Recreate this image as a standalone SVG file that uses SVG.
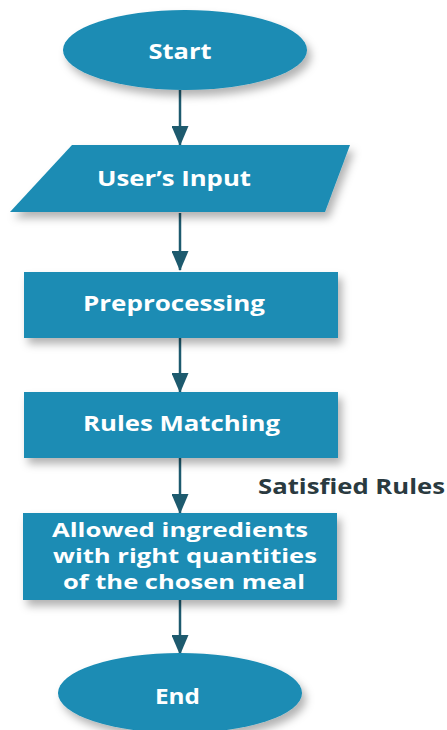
<svg xmlns="http://www.w3.org/2000/svg" width="447" height="730" viewBox="0 0 447 730">
<style>
.shape{fill:#1a8cb4;filter:url(#sh)}
.lbl{font-family:"Open Sans","Liberation Sans",sans-serif;font-weight:bold;font-size:22px;fill:#ffffff;text-anchor:middle;dominant-baseline:central}
.sm{font-size:19px}
.edge{stroke:#1d5a6e;stroke-width:2.5;fill:none;marker-end:url(#ah)}
.note{font-family:"Open Sans","Liberation Sans",sans-serif;font-weight:bold;font-size:21px;fill:#2a3a40}
</style>
<defs>
<filter id="sh" x="-20%" y="-20%" width="150%" height="160%">
<feDropShadow dx="4" dy="6" stdDeviation="4" flood-color="#000" flood-opacity="0.3"/>
</filter>
<marker id="ah" viewBox="0 0 20 17" refX="19" refY="8.5" markerWidth="20" markerHeight="17" markerUnits="userSpaceOnUse" orient="auto">
<path d="M0,0 L20,8.5 L0,17 z" fill="#1d5a6e"/>
</marker>
</defs>
<rect width="447" height="730" fill="#ffffff"/>
<g id="connectors">
<line class="edge" x1="180" y1="90" x2="180" y2="145"/>
<line class="edge" x1="180" y1="213" x2="180" y2="270"/>
<line class="edge" x1="180" y1="338" x2="180" y2="392"/>
<line class="edge" x1="180" y1="458" x2="180" y2="513"/>
<line class="edge" x1="180" y1="600" x2="180" y2="654"/>
</g>
<g id="start">
<ellipse class="shape" cx="185" cy="50" rx="122" ry="40"/>
<text class="lbl" x="180" y="50" textLength="63" lengthAdjust="spacingAndGlyphs">Start</text>
</g>
<g id="input">
<polygon class="shape" points="72,145 350,145 325,212 10,212"/>
<text class="lbl" x="174" y="177" textLength="154" lengthAdjust="spacingAndGlyphs">User’s Input</text>
</g>
<g id="preprocessing">
<rect class="shape" x="24" y="272" width="314" height="66"/>
<text class="lbl" x="174" y="302" textLength="182" lengthAdjust="spacingAndGlyphs">Preprocessing</text>
</g>
<g id="rules">
<rect class="shape" x="24" y="392" width="314" height="66"/>
<text class="lbl" x="181.5" y="422" textLength="197" lengthAdjust="spacingAndGlyphs">Rules Matching</text>
</g>
<text class="note" x="258" y="494" textLength="187" lengthAdjust="spacingAndGlyphs">Satisfied Rules</text>
<g id="allowed">
<rect class="shape" x="23" y="513" width="314" height="87"/>
<text class="lbl sm" x="180" y="530" textLength="256" lengthAdjust="spacingAndGlyphs">Allowed ingredients</text>
<text class="lbl sm" x="185" y="556" textLength="264" lengthAdjust="spacingAndGlyphs">with right quantities</text>
<text class="lbl sm" x="184" y="582" textLength="242" lengthAdjust="spacingAndGlyphs">of the chosen meal</text>
</g>
<g id="end">
<ellipse class="shape" cx="180" cy="693" rx="122" ry="40"/>
<text class="lbl" x="177.5" y="695" textLength="45" lengthAdjust="spacingAndGlyphs">End</text>
</g>
</svg>
